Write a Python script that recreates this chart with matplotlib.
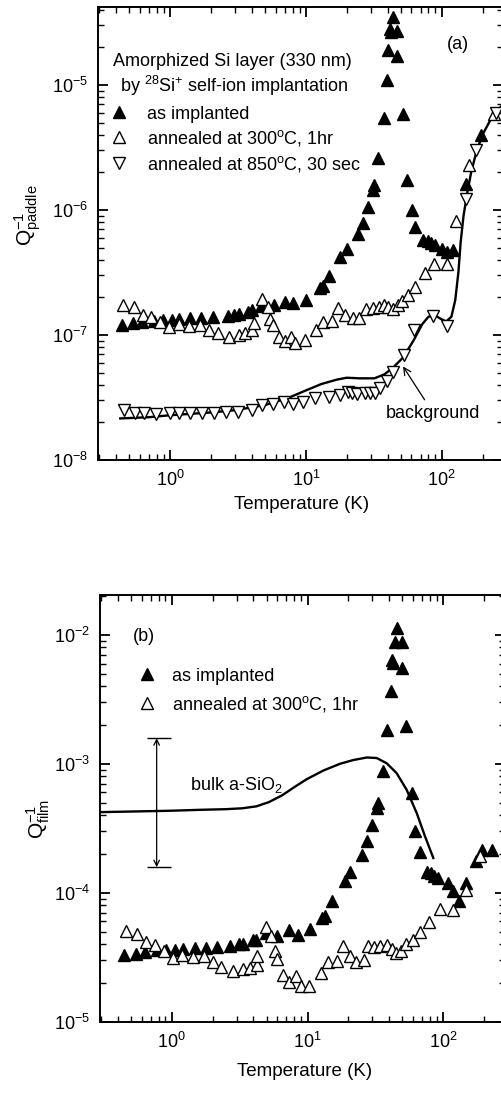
import numpy as np
import matplotlib
matplotlib.use('Agg')
import matplotlib.pyplot as plt
from matplotlib.ticker import LogLocator, NullFormatter

plt.rcParams['font.family'] = ['Liberation Sans', 'DejaVu Sans']
plt.rcParams['mathtext.default'] = 'regular'
plt.rcParams['axes.unicode_minus'] = False
plt.rcParams['axes.linewidth'] = 1.4

# ---- panel (a): Q^-1 of the paddle ----
a_impl_T = [0.44, 0.53, 0.62, 0.76, 0.89, 1.03, 1.17, 1.40, 1.69, 2.08, 2.66, 2.98, 3.24,
            3.77, 4.04, 4.68, 5.83, 7.03, 8.09, 9.98, 12.7, 13.3, 14.7, 17.9, 20.0, 24.1,
            26.5, 28.6, 31.4, 32.0, 34.2, 37.4, 39.4, 40.5, 41.5, 42.5, 44.1, 47.3, 47.3,
            51.6, 55.5, 60.3, 63.2, 72.5, 79, 84, 89, 101, 110, 122, 152, 195]
a_impl_Q = [1.20e-7, 1.24e-7, 1.26e-7, 1.30e-7, 1.32e-7, 1.32e-7, 1.33e-7, 1.36e-7, 1.36e-7,
            1.40e-7, 1.42e-7, 1.45e-7, 1.46e-7, 1.54e-7, 1.58e-7, 1.71e-7, 1.74e-7, 1.85e-7,
            1.79e-7, 1.90e-7, 2.36e-7, 2.47e-7, 2.97e-7, 4.23e-7, 4.85e-7, 6.38e-7, 7.92e-7,
            1.06e-6, 1.45e-6, 1.58e-6, 2.6e-6, 5.4e-6, 1.1e-5, 1.9e-5, 2.8e-5, 2.65e-5, 3.5e-5,
            2.7e-5, 1.7e-5, 5.8e-6, 1.75e-6, 1.0e-6, 7.3e-7, 5.75e-7, 5.6e-7, 5.4e-7, 5.2e-7,
            4.85e-7, 4.6e-7, 4.75e-7, 1.6e-6, 4.0e-6]

a_300_T = [0.45, 0.54, 0.63, 0.73, 0.85, 0.98, 1.16, 1.37, 1.67, 1.95, 2.24, 2.70, 3.2, 3.59,
           4.02, 4.13, 4.76, 5.24, 5.42, 5.73, 6.31, 6.98, 7.82, 8.37, 9.9, 11.8, 13.3, 15.5,
           17.4, 19.4, 22.1, 24.8, 27.6, 31.1, 34.6, 37.6, 40.5, 44.1, 48, 51.4, 56.9, 63.7,
           75, 88, 110, 128, 160, 245]
a_300_Q = [1.74e-7, 1.66e-7, 1.45e-7, 1.39e-7, 1.26e-7, 1.15e-7, 1.22e-7, 1.18e-7, 1.20e-7,
           1.09e-7, 1.03e-7, 9.6e-8, 1.0e-7, 1.03e-7, 1.09e-7, 1.25e-7, 1.93e-7, 1.67e-7,
           1.35e-7, 1.2e-7, 9.6e-8, 8.95e-8, 9.6e-8, 8.7e-8, 9.1e-8, 1.1e-7, 1.28e-7, 1.3e-7,
           1.63e-7, 1.45e-7, 1.36e-7, 1.36e-7, 1.62e-7, 1.65e-7, 1.68e-7, 1.74e-7, 1.66e-7,
           1.6e-7, 1.73e-7, 1.86e-7, 2.08e-7, 2.44e-7, 3.13e-7, 3.72e-7, 3.72e-7, 8.1e-7,
           2.3e-6, 5.9e-6]

a_850_T = [0.458, 0.552, 0.647, 0.789, 1.0, 1.17, 1.4, 1.71, 2.12, 2.57, 3.19, 3.99, 4.73,
           5.7, 6.95, 8.09, 9.6, 11.7, 14.7, 17.9, 20.6, 21.8, 23.9, 27.3, 29.7, 32.3, 35.2,
           39.4, 44.1, 53.2, 63, 87, 110, 150, 178, 250]
a_850_Q = [2.51e-8, 2.39e-8, 2.36e-8, 2.32e-8, 2.39e-8, 2.36e-8, 2.36e-8, 2.36e-8, 2.39e-8,
           2.44e-8, 2.44e-8, 2.51e-8, 2.75e-8, 2.79e-8, 2.93e-8, 2.79e-8, 2.89e-8, 3.11e-8,
           3.21e-8, 3.31e-8, 3.52e-8, 3.42e-8, 3.35e-8, 3.42e-8, 3.42e-8, 3.46e-8, 3.74e-8,
           4.28e-8, 5.09e-8, 6.92e-8, 1.1e-7, 1.42e-7, 1.18e-7, 1.23e-6, 3.0e-6, 6.0e-6]

bg_T = [0.43, 0.7, 1.0, 2.0, 3.0, 5.0, 7.5, 10, 13, 17, 20, 25, 32, 38, 44, 52, 62, 72, 80,
        90, 98, 108, 118, 126, 133, 138, 145, 155, 165, 180, 200, 230, 270, 300]
bg_Q = [2.15e-8, 2.2e-8, 2.28e-8, 2.4e-8, 2.5e-8, 2.75e-8, 3.15e-8, 3.6e-8, 4.05e-8, 4.4e-8,
        4.55e-8, 4.5e-8, 4.5e-8, 4.85e-8, 5.5e-8, 6.6e-8, 9.0e-8, 1.22e-7, 1.4e-7, 1.43e-7,
        1.35e-7, 1.28e-7, 1.4e-7, 1.9e-7, 3.2e-7, 5.5e-7, 9e-7, 1.4e-6, 2.0e-6, 2.9e-6,
        4.0e-6, 5.3e-6, 6.6e-6, 7.5e-6]

# ---- panel (b): Q^-1 of the film ----
b_impl_T = [0.446, 0.546, 0.636, 0.776, 0.908, 1.06, 1.22, 1.49, 1.78, 2.17, 2.69, 3.15, 3.37,
            4.0, 4.18, 4.95, 5.99, 7.35, 8.57, 10.4, 12.7, 13.5, 15.1, 18.9, 20.6, 25.1, 27.3,
            30.0, 32.3, 32.9, 36.2, 38.3, 41.0, 41.7, 42.3, 44.1, 45.3, 49.3, 49.3, 53.1, 58.5,
            61.8, 67.3, 75.4, 80.7, 85.3, 91.8, 109, 117, 131, 147, 174, 192, 227]
b_impl_Q = [3.3e-5, 3.35e-5, 3.45e-5, 3.57e-5, 3.62e-5, 3.62e-5, 3.66e-5, 3.72e-5, 3.72e-5,
            3.79e-5, 3.88e-5, 4.0e-5, 4.0e-5, 4.27e-5, 4.32e-5, 4.87e-5, 4.64e-5, 5.11e-5,
            4.72e-5, 5.22e-5, 6.37e-5, 6.64e-5, 8.57e-5, 1.24e-4, 1.46e-4, 1.97e-4, 2.53e-4,
            3.37e-4, 4.53e-4, 4.95e-4, 8.87e-4, 1.84e-3, 3.68e-3, 6.4e-3, 6.1e-3, 8.88e-3,
            1.13e-2, 8.77e-3, 5.52e-3, 1.95e-3, 5.93e-4, 3.04e-4, 2.07e-4, 1.46e-4, 1.42e-4,
            1.35e-4, 1.3e-4, 1.2e-4, 1.04e-4, 8.67e-5, 1.2e-4, 1.75e-4, 2.15e-4, 2.15e-4]

b_300_T = [0.461, 0.552, 0.644, 0.754, 0.879, 1.02, 1.2, 1.43, 1.74, 2.0, 2.31, 2.81, 3.33,
           3.77, 4.23, 4.28, 4.95, 5.35, 5.77, 5.93, 6.64, 7.35, 8.23, 8.96, 10.3, 12.5, 14.2,
           16.4, 18.4, 20.6, 22.8, 26.1, 28.1, 30.9, 34.2, 38.7, 41.7, 44.9, 48.8, 53.1, 59.4,
           67.3, 78.8, 94.5, 118, 147, 186]
b_300_Q = [5.01e-5, 4.78e-5, 4.12e-5, 3.95e-5, 3.51e-5, 3.12e-5, 3.27e-5, 3.17e-5, 3.25e-5,
           2.88e-5, 2.65e-5, 2.46e-5, 2.56e-5, 2.61e-5, 2.77e-5, 3.25e-5, 5.38e-5, 4.58e-5,
           3.51e-5, 3.06e-5, 2.31e-5, 2.05e-5, 2.25e-5, 1.9e-5, 1.9e-5, 2.38e-5, 2.88e-5,
           2.94e-5, 3.88e-5, 3.25e-5, 2.88e-5, 3.03e-5, 3.84e-5, 3.79e-5, 3.84e-5, 3.95e-5,
           3.66e-5, 3.4e-5, 3.55e-5, 4.0e-5, 4.32e-5, 4.93e-5, 5.89e-5, 7.46e-5, 7.29e-5,
           1.05e-4, 1.94e-4]

sio2_T = [0.29, 0.52, 1.0, 1.62, 2.5, 3.3, 4.2, 5.2, 6.5, 8.0, 9.86, 13.1, 17.3, 21.7, 27.3,
          32.3, 38.3, 45.3, 53.7, 63.7, 73.3, 84.4]
sio2_Q = [4.22e-4, 4.27e-4, 4.33e-4, 4.4e-4, 4.45e-4, 4.52e-4, 4.68e-4, 5.05e-4, 5.7e-4,
          6.6e-4, 7.6e-4, 8.88e-4, 1.0e-3, 1.07e-3, 1.12e-3, 1.11e-3, 1.01e-3, 8.47e-4,
          6.29e-4, 4.15e-4, 2.74e-4, 1.86e-4]

# spread of bulk a-SiO2 values
sio2_range_T = 0.775
sio2_range_Q = [1.58e-4, 1.58e-3]
sio2_bar_T = [0.655, 0.983]

fig = plt.figure(figsize=(5.01, 11.06), dpi=100)
ax1 = fig.add_axes([98 / 501, 1 - 460 / 1106, 405.4 / 501, 453 / 1106])
ax2 = fig.add_axes([99.7 / 501, 1 - 1021.7 / 1106, 405.4 / 501, 426.7 / 1106])


def style(ax):
    ax.set_xscale('log')
    ax.set_yscale('log')
    for axis in (ax.xaxis, ax.yaxis):
        axis.set_major_locator(LogLocator(base=10, numticks=20))
        axis.set_minor_locator(LogLocator(base=10, subs=np.arange(2, 10), numticks=40))
        axis.set_minor_formatter(NullFormatter())
    ax.tick_params(which='both', direction='in', top=True, right=True,
                   labelsize=13, pad=7)
    ax.tick_params(which='major', length=7, width=1.3)
    ax.tick_params(which='minor', length=4, width=1.0)
    ax.set_xlim(0.295, 285)


filled = dict(ls='none', marker='^', ms=8, color='k')
open_up = dict(ls='none', marker='^', ms=8, mfc='white', mec='k', mew=1.0)
open_dn = dict(ls='none', marker='v', ms=8, mfc='white', mec='k', mew=1.0)

# panel (a)
style(ax1)
ax1.set_ylim(1e-8, 4.2e-5)
ax1.plot(bg_T, bg_Q, color='k', lw=1.7, zorder=2)
ax1.plot(a_impl_T, a_impl_Q, label='as implanted', zorder=3, **filled)
ax1.plot(a_300_T, a_300_Q, label='annealed at 300$^o$C, 1hr', zorder=3, **open_up)
ax1.plot(a_850_T, a_850_Q, label='annealed at 850$^o$C, 30 sec', zorder=3, **open_dn)
ax1.set_xlabel('Temperature (K)', fontsize=13.5)
ax1.set_ylabel('$Q^{-1}_{paddle}$', fontsize=15)
ax1.xaxis.set_label_coords(0.503, -0.079)
ax1.yaxis.set_label_coords(-0.136, 0.541)
ax1.text(0.383, 1.54e-5, 'Amorphized Si layer (330 nm)', fontsize=13, va='center')
ax1.text(0.428, 9.8e-6, 'by $^{28}$Si$^{+}$ self-ion implantation', fontsize=13, va='center')
ax1.text(109, 2.09e-5, '(a)', fontsize=13, va='center')
ax1.legend(loc='upper left', bbox_to_anchor=(0.03, 0.782), frameon=False, fontsize=13,
           handlelength=1.0, handletextpad=1.05, labelspacing=0.3, borderpad=0,
           borderaxespad=0)
ax1.annotate('background', xy=(52, 5.6e-8), xytext=(87, 2.36e-8), fontsize=13,
             ha='center', va='center',
             arrowprops=dict(arrowstyle='->', lw=0.9, color='k', shrinkA=2, shrinkB=0))

# panel (b)
style(ax2)
ax2.set_ylim(1e-5, 2.04e-2)
ax2.plot(sio2_T, sio2_Q, color='k', lw=1.7, zorder=2)
ax2.plot(b_impl_T, b_impl_Q, label='as implanted', zorder=3, **filled)
ax2.plot(b_300_T, b_300_Q, label='annealed at 300$^o$C, 1hr', zorder=3, **open_up)
ax2.set_xlabel('Temperature (K)', fontsize=13.5)
ax2.set_ylabel('$Q^{-1}_{film}$', fontsize=15)
ax2.xaxis.set_label_coords(0.506, -0.097)
ax2.yaxis.set_label_coords(-0.118, 0.475)
ax2.text(0.522, 9.8e-3, '(b)', fontsize=13, va='center')
ax2.text(1.36, 6.87e-4, 'bulk a-SiO$_2$', fontsize=13, va='center')
ax2.legend(loc='upper left', bbox_to_anchor=(0.094, 0.83), frameon=False, fontsize=13,
           handlelength=1.0, handletextpad=0.9, labelspacing=0.5, borderpad=0,
           borderaxespad=0)
ax2.annotate('', xy=(sio2_range_T, sio2_range_Q[1]), xytext=(sio2_range_T, sio2_range_Q[0]),
             arrowprops=dict(arrowstyle='<->', lw=0.9, color='k', shrinkA=0, shrinkB=0))
ax2.hlines(sio2_range_Q, sio2_bar_T[0], sio2_bar_T[1], color='k', lw=1.0)

fig.savefig('out.png', dpi=100)
